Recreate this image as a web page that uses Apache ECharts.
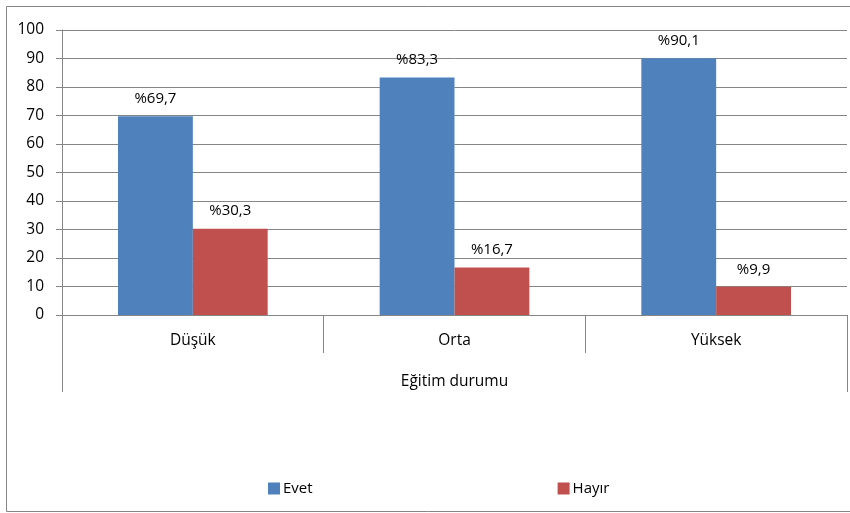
<!DOCTYPE html>
<html><head><meta charset="utf-8">
<script src="https://cdn.jsdelivr.net/npm/echarts@6/dist/echarts.min.js"></script>
<style>html,body{margin:0;padding:0;background:#fff}#c{width:850px;height:513px}</style>
</head><body><div id="c"></div>
<script>
const categories = ['Düşük', 'Orta', 'Yüksek'];
const axisTitle = ['Eğitim durumu'];
const evet = [69.7, 83.3, 90.1];
const hayir = [30.3, 16.7, 9.9];
const seriesNames = ['Evet', 'Hayır'];

const FONT = '"Open Sans", "DejaVu Sans", sans-serif';
const chart = echarts.init(document.getElementById('c'), null, {renderer: 'canvas'});
const lbl = {
  show: true, position: 'top', distance: 10, color: '#000',
  fontFamily: FONT, fontSize: 15,
  formatter: p => '%' + String(p.value).replace('.', ',')
};
chart.setOption({
  animation: false,
  textStyle: {fontFamily: FONT},
  graphic: [{type: 'rect', shape: {x: 6.5, y: 6.5, width: 850, height: 505},
    style: {fill: 'none', stroke: '#868686', lineWidth: 1}, silent: true}],
  legend: {
    data: seriesNames, left: 263, top: 476, itemWidth: 12, itemHeight: 12,
    itemGap: 245, icon: 'rect',
    textStyle: {fontFamily: FONT, fontSize: 15, color: '#000', padding: [0, 0, 0, -2]}
  },
  grid: {left: 62, right: 3, top: 30, bottom: 198, containLabel: false},
  xAxis: [{
    type: 'category', data: categories, position: 'bottom',
    axisLine: {show: true, lineStyle: {color: '#868686'}},
    axisTick: {show: true, alignWithLabel: false, interval: 0, length: 38, lineStyle: {color: '#868686'}},
    axisLabel: {color: '#000', fontSize: 15.5, fontFamily: FONT, margin: 18}
  }, {
    type: 'category', data: axisTitle, position: 'bottom', gridIndex: 0,
    axisLine: {show: false},
    axisTick: {show: true, interval: 0, length: 77, lineStyle: {color: '#868686'}},
    axisLabel: {color: '#000', fontSize: 15.5, fontFamily: FONT, margin: 59}
  }],
  yAxis: {
    type: 'value', min: 0, max: 100, interval: 10,
    axisLine: {show: true, lineStyle: {color: '#868686'}},
    axisTick: {show: true, length: 6, lineStyle: {color: '#868686'}},
    axisLabel: {color: '#000', fontSize: 15.5, fontFamily: FONT, margin: 18},
    splitLine: {show: true, lineStyle: {color: '#868686', width: 1}}
  },
  series: [
    {name: seriesNames[0], type: 'bar', data: evet, xAxisIndex: 0,
     itemStyle: {color: '#4F81BD'}, barGap: '0%', barCategoryGap: '42.8%', label: lbl},
    {name: seriesNames[1], type: 'bar', data: hayir, xAxisIndex: 0,
     itemStyle: {color: '#C0504D'}, barGap: '0%', barCategoryGap: '42.8%', label: lbl}
  ]
});
</script></body></html>
